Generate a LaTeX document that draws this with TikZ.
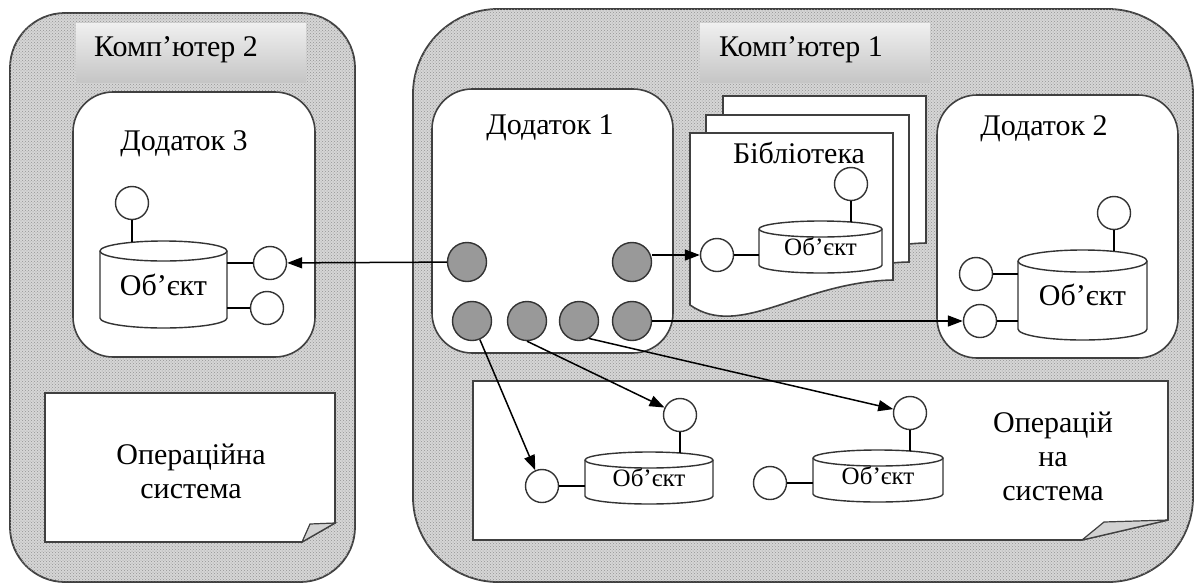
\documentclass[tikz,border=0pt]{standalone}
\usepackage{fontspec}
\setmainfont{Liberation Serif}
\usetikzlibrary{arrows.meta,patterns,positioning}

% cylinder object: name, x, y, half width, half height, ellipse radius, text style
\newcommand{\objcyl}[7]{%
    \draw[cyl] ({#2-#4},{#3-#5}) -- ({#2-#4},{#3+#5})
        arc[start angle=180, end angle=360, x radius=#4pt, y radius=#6pt]
        -- ({#2+#4},{#3-#5})
        arc[start angle=0, end angle=180, x radius=#4pt, y radius=#6pt] -- cycle;
    \draw[cyl,fill=none] ({#2-#4},{#3-#5})
        arc[start angle=180, end angle=360, x radius=#4pt, y radius=#6pt];
    \node[objbody,#7,minimum width={2*#4},minimum height={2*#5}] (#1) at (#2,#3) {Об’єкт};
}

\begin{document}
\begin{tikzpicture}[x=1pt,y=-1pt,
    every node/.style={font=\fontsize{30}{34}\selectfont},
    comp/.style={draw=black!75, line width=1.8pt, fill=gray!32,
        postaction={pattern=crosshatch dots, pattern color=gray!85}},
    band/.style={top color=gray!12, bottom color=gray!45, draw=none},
    app/.style={draw=black!75, line width=1.6pt, fill=white, rounded corners=40pt},
    page/.style={draw=black!75, line width=1.6pt, fill=white},
    flap/.style={draw=black!75, line width=1.2pt, fill=gray!35},
    port/.style={circle, draw=black!80, line width=1.4pt, fill=white, minimum size=33pt, inner sep=0pt},
    iface/.style={circle, draw=black!80, line width=1.4pt, fill=black!40, minimum size=39pt, inner sep=0pt},
    objbody/.style={rectangle, inner sep=0pt},
    cyl/.style={draw=black!80, line width=1.4pt, fill=white},
    wire/.style={draw=black, line width=1.5pt},
    arr/.style={wire, -{Triangle[length=15pt, width=11pt]}},
    smalltext/.style={font=\fontsize{25}{28}\selectfont}
    ]
    \useasboundingbox (0,0) rectangle (1196,584);

    \draw[comp, rounded corners=55pt] (10,13) rectangle (355,582);
    \draw[comp, rounded corners=85pt] (413,9) rectangle (1193,582);
    \fill[band] (76,23) rectangle (306,82);
    \fill[band] (700,23) rectangle (930,82);
    \node (k2) at (176,50) {Комп’ютер 2};
    \node (k1) at (801,50) {Комп’ютер 1};

    \draw[app] (73,92) rectangle (315,357);
    \draw[app] (432,89) rectangle (673,353);
    \draw[app] (937,95) rectangle (1178,358);
    \node (a3) at (184,144) {Додаток 3};
    \node (a1) at (550,128) {Додаток 1};
    \node (a2) at (1044,129) {Додаток 2};

    \foreach \dx/\dy in {33/-37,16/-18,0/0}
        \draw[page, shift={(\dx,\dy)}] (690,133) -- (893,133) -- (893,280)
            .. controls (800,282) and (740,340) .. (690,305) -- cycle;
    \node (lib) at (799,153) {Бібліотека};

    \draw[page] (45,393) -- (335,393) -- (335,523) -- (302,542) -- (45,542) -- cycle;
    \draw[flap] (302,542) -- (310,524) -- (335,523) -- cycle;
    \node[align=center] (os2) at (191,471) {Операційна\\система};

    \draw[page] (473,381) -- (1168,381) -- (1168,520) -- (1082,540) -- (473,540) -- cycle;
    \draw[flap] (1082,540) -- (1104,522) -- (1168,520) -- cycle;
    \node[align=center] (os1) at (1053,456) {Операцій\\на\\система};

    \objcyl{o3}{163.5}{284.5}{63.5}{33.5}{10}{}
    \objcyl{o2}{1082.5}{295}{64.5}{34}{11}{}
    \objcyl{ol}{820.5}{247}{61.5}{18}{8}{smalltext}
    \objcyl{oa}{649}{478}{64}{18}{8}{smalltext}
    \objcyl{ob}{878}{476}{65}{18}{8}{smalltext}

    \node[port] (d3top) at (132,203) {};
    \node[port] (d3a) at (270,263) {};
    \node[port] (d3b) at (267,308) {};
    \node[port] (libtop) at (851,184) {};
    \node[port] (libc) at (717,255) {};
    \node[port] (d2top) at (1114,213) {};
    \node[port] (d2a) at (976,274) {};
    \node[port] (d2b) at (980,321) {};
    \node[port] (atop) at (680,415) {};
    \node[port] (aleft) at (542,486) {};
    \node[port] (btop) at (910,413) {};
    \node[port] (bleft) at (770,483) {};

    \draw[wire] (d3top.south) -- ([yshift=8.7pt]d3top |- o3.north);
    \draw[wire] (d3a.west) -- (d3a.west -| o3.east);
    \draw[wire] (d3b.west) -- (d3b.west -| o3.east);
    \draw[wire] (libtop.south) -- ([yshift=6.9pt]libtop |- ol.north);
    \draw[wire] (libc.east) -- (libc.east -| ol.west);
    \draw[wire] (d2top.south) -- ([yshift=9.6pt]d2top |- o2.north);
    \draw[wire] (d2a.east) -- (d2a.east -| o2.west);
    \draw[wire] (d2b.east) -- (d2b.east -| o2.west);
    \draw[wire] (atop.south) -- ([yshift=7pt]atop |- oa.north);
    \draw[wire] (aleft.east) -- (aleft.east -| oa.west);
    \draw[wire] (btop.south) -- ([yshift=7pt]btop |- ob.north);
    \draw[wire] (bleft.east) -- (bleft.east -| ob.west);

    \node[iface] (t1) at (467,262) {};
    \node[iface] (t2) at (632,262) {};
    \node[iface] (b1) at (472,321) {};
    \node[iface] (b2) at (527,321) {};
    \node[iface] (b3) at (579,321) {};
    \node[iface] (b4) at (632,321) {};

    \draw[arr] (t1) -- (d3a);
    \draw[arr] (t2.east |- libc) -- (libc);
    \draw[arr] (b1) -- (aleft);
    \draw[arr] (b2.south) -- (atop);
    \draw[arr] (b3.-60) -- (btop);
    \draw[arr] (b4) -- (d2b);
\end{tikzpicture}
\end{document}
